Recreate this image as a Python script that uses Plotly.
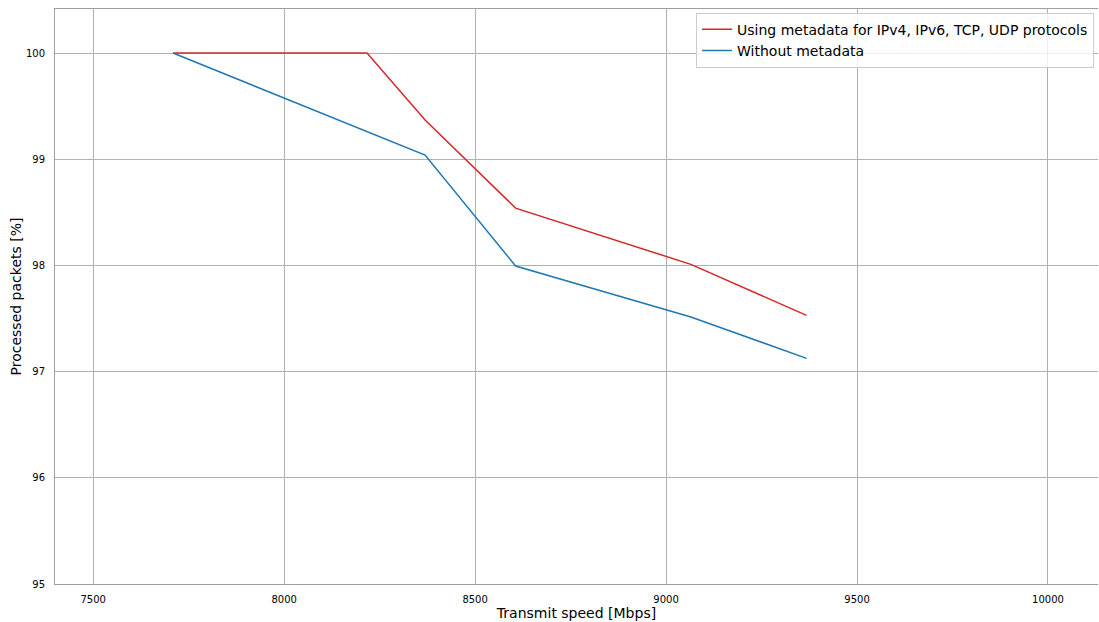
import plotly.graph_objects as go

speed_meta = [7709, 8217, 8369, 8606, 9065, 9368]
pct_meta = [100.0, 100.0, 99.37, 98.54, 98.01, 97.53]
speed_nometa = [7709, 8369, 8606, 9065, 9368]
pct_nometa = [100.0, 99.04, 97.995, 97.515, 97.125]

label_meta = "Using metadata for IPv4, IPv6, TCP, UDP protocols"
label_nometa = "Without metadata"

x_ticks = [7500, 8000, 8500, 9000, 9500, 10000]
x_tick_labels = ["7500", "8000", "8500", "9000", "9500", "10000"]
y_ticks = [95, 96, 97, 98, 99, 100]

fig = go.Figure()
fig.add_trace(go.Scatter(x=speed_meta, y=pct_meta, mode="lines", name=label_meta,
                         line=dict(color="#d62728", width=1.5)))
fig.add_trace(go.Scatter(x=speed_nometa, y=pct_nometa, mode="lines", name=label_nometa,
                         line=dict(color="#1f77b4", width=1.5)))

font = "DejaVu Sans, sans-serif"
fig.update_layout(
    width=1099, height=622,
    margin=dict(l=55, r=1, t=9, b=38),
    paper_bgcolor="white", plot_bgcolor="white",
    font=dict(family=font, color="black"),
    legend=dict(x=0.9962, y=0.9935, xanchor="right", yanchor="top",
                bgcolor="rgba(255,255,255,0.8)", bordercolor="#cccccc", borderwidth=1,
                font=dict(size=14, family=font)),
    xaxis=dict(range=[7400, 10131], tickvals=x_ticks, ticktext=x_tick_labels,
               showgrid=True, gridcolor="#b0b0b0",
               gridwidth=1, showline=True, linecolor="#a0a0a0", linewidth=1, mirror=True,
               zeroline=False, tickfont=dict(size=10), ticks="", ticklabelstandoff=6,
               title=dict(text="Transmit speed [Mbps]", font=dict(size=14), standoff=2),
               automargin=False),
    yaxis=dict(range=[95, 100.415], tickvals=y_ticks, showgrid=True, gridcolor="#b0b0b0",
               gridwidth=1, showline=True, linecolor="#a0a0a0", linewidth=1,
               zeroline=False, tickfont=dict(size=10), ticks="", ticklabelstandoff=7,
               title=dict(text="Processed packets [%]", font=dict(size=14), standoff=1),
               automargin=False),
)

fig.write_html("out.html", config={"displayModeBar": False},
               post_script="document.body.style.margin='0';document.body.style.overflow='hidden';")
